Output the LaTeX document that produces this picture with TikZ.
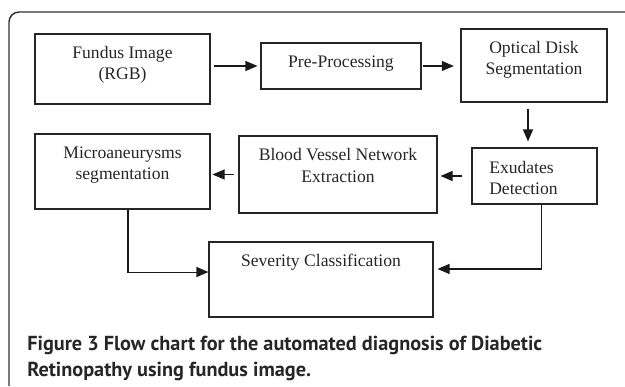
\documentclass[tikz,border=0pt]{standalone}
\usepackage{fontspec}
\setmainfont{Liberation Serif}
\newfontfamily\capfont{PT Sans}
\usetikzlibrary{positioning,arrows.meta,calc}
\tikzset{
  box/.style  ={draw=black!85, line width=0.8pt, inner sep=0pt},
  txt/.style  ={font=\fontsize{13.2}{15.8}\selectfont, align=center, inner sep=0pt, text=black!85},
  fl/.style   ={-{Triangle[length=9pt,width=7.5pt]}, line width=0.8pt, draw=black!90},
  frame/.style={draw=black!80, line width=1.1pt, rounded corners=7.5pt},
  capt/.style ={font=\capfont\bfseries\fontsize{15.2}{19.5}\selectfont, align=left,
                inner sep=0pt, text=black!85},
}

\begin{document}
\begin{tikzpicture}[x=0.75pt,y=-0.75pt]
  \useasboundingbox (0,0) rectangle (625,386);
  \draw[frame] (9,386) -- (9,12) -- (625,12);

  % ---------------- boxes -----------------
  \node[box, minimum width=131.25pt, minimum height=52.5pt]  (fundus) at (122.5,69)  {};
  \node[box, minimum width=120pt,    minimum height=34.5pt]  (prep)   at (341,66)    {};
  \node[box, minimum width=109.5pt,  minimum height=54.75pt] (odseg)  at (534,65.5)  {};
  \node[box, minimum width=93.75pt,  minimum height=42pt]    (exud)   at (534.5,176) {};
  \node[box, minimum width=148.5pt,  minimum height=57.75pt] (bvne)   at (338,174.5) {};
  \node[box, minimum width=131.25pt, minimum height=56.25pt] (maseg)  at (122.5,171.5) {};
  \node[box, minimum width=168pt,    minimum height=56.25pt] (sevcl)  at (321,279.5) {};

  % ---------------- texts -----------------
  \node[txt] (fundus-t) at (122.5,64.5) {Fundus Image\\(RGB)};
  \node[txt] (prep-t)   at (341,63.5)   {Pre-Processing};
  \node[txt] (odseg-t)  at (534,60)     {Optical Disk\\Segmentation};
  \node[txt, align=left, anchor=west] (exud-t) at (489,178) {Exudates\\Detection};
  \node[txt] (bvne-t)   at (338,165.5)  {Blood Vessel Network\\Extraction};
  \node[txt] (maseg-t)  at (122.5,165)  {Microaneurysms\\segmentation};
  \node[txt] (sevcl-t)  at (321,262)    {Severity Classification};

  % ---------------- arrows -----------------
  \draw[fl, shorten <=2.25pt, shorten >=2.25pt] (fundus.east |- prep.west) -- (prep.west);
  \draw[fl, shorten <=0.75pt, shorten >=5pt] (prep.east) -- (odseg.west |- prep.east);
  \draw[fl, shorten <=4.5pt, shorten >=4.5pt] ([xshift=-4.5pt]odseg.south) -- ([xshift=-4.5pt]odseg.south |- exud.north);
  \draw[fl, shorten <=6.75pt, shorten >=2.25pt] (exud.west) -- (bvne.east |- exud.west);
  \draw[fl, shorten <=3pt, shorten >=1.5pt] (bvne.west) -- (maseg.east |- bvne.west);
  \draw[fl] ([xshift=4.1pt]maseg.south) |- ([yshift=5.6pt]sevcl.west);
  \draw[fl, shorten >=3pt] ([xshift=4.9pt]exud.south) |- ([yshift=7.9pt]sevcl.east);

  % ---------------- caption -----------------
  \node[capt, anchor=north west] (caption) at (27,336)
        {Figure 3 Flow chart for the automated diagnosis of Diabetic\\Retinopathy using fundus image.};
\end{tikzpicture}
\end{document}
